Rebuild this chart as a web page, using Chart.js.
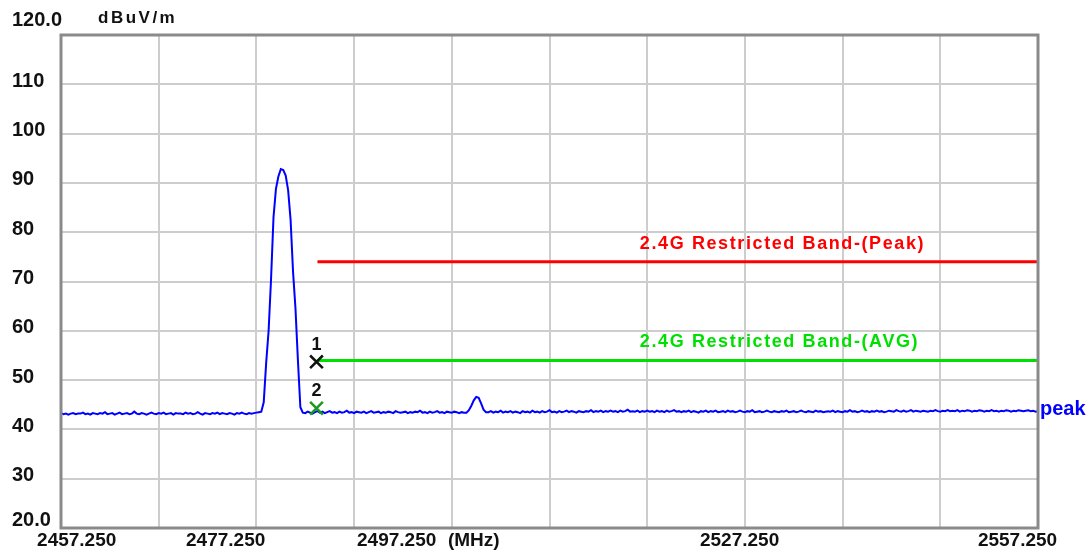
<!DOCTYPE html>
<html>
  <head>
    <title>Restricted Band Emission</title>
    <script src="https://cdn.jsdelivr.net/npm/chart.js"></script>
    <style>
      body {
        background: #fff;
        margin: 0;
      }
      .container {
        height: 558px;
        width: 1091px;
      }
    </style>
  </head>
  <body>
    <div class="container">
      <canvas id="chart" width="1091" height="558"></canvas>
    </div>

    <script>
      // Sweep: 2457.25 MHz .. 2557.25 MHz, one reading every 0.25 MHz
      const sweepStart = 2457.25;
      const sweepStep = 0.25;
      const traceLevels = [
        43.3,43.1,43.2,43.0,43.2,43.3,43.1,43.2,43.2,43.4,
        43.1,43.2,43.0,43.3,43.2,43.1,43.3,43.2,43.5,43.1,
        43.2,43.3,43.0,43.2,43.4,43.1,43.2,43.3,43.1,43.2,
        43.6,43.2,43.1,43.3,43.2,43.0,43.2,43.4,43.2,43.1,
        43.3,43.2,43.4,43.1,43.2,43.3,43.0,43.3,43.2,43.2,
        43.1,43.4,43.2,43.3,43.1,43.2,43.5,43.2,43.0,43.3,
        43.2,43.1,43.3,43.2,43.4,43.1,43.3,43.2,43.1,43.3,
        43.2,43.0,43.3,43.2,43.4,43.2,43.1,43.3,43.2,43.3,
        43.4,43.5,
        // carrier
        43.6,45.5,53.5,60.0,70.5,83.0,88.8,91.3,92.8,92.6,
        91.5,88.5,82.5,72.0,64.5,54.0,44.5,43.4,
        43.3,43.6,43.4,43.2,43.5,43.7,43.4,43.6,43.3,43.5,
        43.7,43.4,43.5,43.3,43.6,43.4,43.5,43.8,43.4,43.5,
        43.3,43.6,43.5,43.4,43.6,43.3,43.5,43.7,43.4,43.5,
        43.6,43.3,43.5,43.4,43.6,43.5,43.3,43.7,43.5,43.4,
        43.5,43.6,43.3,43.5,43.4,43.6,43.5,43.8,43.4,43.5,
        43.3,43.6,43.4,43.5,43.7,43.4,43.5,43.3,43.6,43.5,
        43.4,43.6,43.5,43.3,43.5,43.4,
        // small spur near 2500 MHz
        43.4,43.9,44.8,45.9,46.6,46.4,45.3,44.0,43.5,
        43.5,43.7,43.4,43.6,43.5,43.8,43.4,43.6,43.5,43.7,
        43.4,43.6,43.5,43.3,43.7,43.5,43.6,43.4,43.8,43.5,
        43.6,43.4,43.7,43.5,43.6,43.9,43.5,43.6,43.4,43.7,
        43.5,43.6,43.8,43.5,43.7,43.6,43.4,43.7,43.6,43.5,
        43.7,43.6,43.9,43.5,43.7,43.6,43.8,43.5,43.7,43.6,
        43.8,43.6,43.7,43.5,43.8,43.6,43.7,44.0,43.6,43.7,
        43.6,43.8,43.5,43.7,43.6,43.8,43.6,43.7,43.5,43.8,
        43.6,43.7,43.5,43.8,43.6,43.7,43.9,43.6,43.7,43.5,
        43.7,43.6,43.8,43.5,43.7,43.6,43.4,43.7,43.6,43.8,
        43.5,43.7,43.6,43.8,43.5,43.6,43.7,43.5,43.8,43.6,
        43.7,43.5,43.6,43.8,43.6,43.5,43.7,43.6,43.9,43.5,
        43.6,43.7,43.5,43.6,43.8,43.6,43.5,43.7,43.6,43.5,
        43.7,43.6,43.8,43.5,43.6,43.7,43.5,43.6,43.8,43.6,
        43.5,43.7,43.6,43.5,43.8,43.6,43.7,43.5,43.6,43.7,
        43.6,43.8,43.5,43.7,43.6,43.5,43.7,43.6,43.9,43.6,
        43.7,43.5,43.6,43.8,43.6,43.7,43.5,43.7,43.6,43.8,
        43.6,43.7,43.5,43.6,43.8,43.7,43.6,43.9,43.7,43.6,
        43.8,43.6,43.7,43.9,43.6,43.8,43.7,43.6,43.8,43.7,
        43.6,43.8,43.7,43.9,43.7,43.6,43.8,43.7,43.9,43.7,
        43.8,43.7,43.9,43.6,43.8,43.7,43.9,43.8,43.6,43.8,
        43.7,43.9,43.8,43.6,43.8,43.7,43.9,43.7,43.8,43.6,
        43.8,43.7,43.9,43.8,43.6,43.8,43.7,43.9,43.8,43.7,
        43.8,43.9,43.7,43.8,43.6,43.7
      ];

      // Limit lines
      const limitNames = ['2.4G Restricted Band-(Peak)', '2.4G Restricted Band-(AVG)'];
      const limitLevels = [74, 54];
      const limitFreqs = [2483.5, 2557.25];

      // Markers
      const markerNames = ['1', '2'];
      const markerFreqs = [2483.4, 2483.4];
      const markerLevels = [53.7, 44.3];

      // Axes
      const xGridFreqs = [2457.25, 2467.25, 2477.25, 2487.25, 2497.25, 2507.25, 2517.25, 2527.25, 2537.25, 2547.25, 2557.25];
      const xTickLabels = ['2457.250', '2477.250', '2497.250', '(MHz)', '2527.250', '2557.250'];
      const yTickValues = [120, 110, 100, 90, 80, 70, 60, 50, 40, 30, 20];
      const yTickLabels = ['120.0', '110', '100', '90', '80', '70', '60', '50', '40', '30', '20.0'];
      const unitLabel = 'dBuV/m';
      const traceName = 'peak';

      const tracePoints = traceLevels.map((v, i) => ({ x: sweepStart + i * sweepStep, y: v }));

      // Axis text, frame and annotations drawn on top
      const overlay = {
        id: 'overlay',
        afterDraw(chart) {
          const { ctx, chartArea: a, scales: { x, y } } = chart;
          ctx.save();

          ctx.strokeStyle = '#8a8a8a';
          ctx.lineWidth = 3;
          ctx.strokeRect(a.left, a.top, a.right - a.left, a.bottom - a.top);

          ctx.fillStyle = '#111';
          ctx.textAlign = 'left';
          ctx.textBaseline = 'middle';

          // y labels
          ctx.font = 'bold 20px Arial';
          yTickValues.forEach((v, i) => {
            let dy = -3;
            if (i === 0) dy = -15;
            if (i === yTickValues.length - 1) dy = -8;
            ctx.fillText(yTickLabels[i], 12, y.getPixelForValue(v) + dy);
          });

          ctx.font = 'bold 17px Arial';
          ctx.letterSpacing = '2.5px';
          ctx.fillText(unitLabel, 98, 18);
          ctx.letterSpacing = '0px';

          // x labels, left edges measured in MHz like the original plot
          const xLeft = [2454.8, 2470.05, 2487.55, 2496.85, 2522.65, 2551.1];
          ctx.font = 'bold 19px Arial';
          xTickLabels.forEach((t, i) => {
            ctx.fillText(t, x.getPixelForValue(xLeft[i]), 541);
          });

          // limit names
          ctx.font = 'bold 18px Arial';
          ctx.letterSpacing = '1.6px';
          const limitColors = ['#ff0000', '#00e000'];
          limitNames.forEach((t, i) => {
            ctx.fillStyle = limitColors[i];
            ctx.fillText(t, x.getPixelForValue(2516.5), y.getPixelForValue(limitLevels[i]) - 18);
          });
          ctx.letterSpacing = '0px';

          // marker numbers
          ctx.fillStyle = '#111';
          ctx.font = 'bold 18px Arial';
          ctx.textAlign = 'center';
          markerNames.forEach((t, i) => {
            ctx.fillText(t, x.getPixelForValue(markerFreqs[i]), y.getPixelForValue(markerLevels[i]) - 17);
          });

          // trace name
          ctx.fillStyle = '#0000ff';
          ctx.font = 'bold 20px Arial';
          ctx.textAlign = 'left';
          ctx.fillText(traceName, a.right + 2, y.getPixelForValue(traceLevels[traceLevels.length - 1]) - 2);

          ctx.restore();
        }
      };

      const ctx = document.getElementById('chart').getContext('2d');
      new Chart(ctx, {
        type: 'line',
        data: {
          datasets: [
            {
              label: traceName,
              data: tracePoints,
              borderColor: '#0000ff',
              borderWidth: 2,
              pointRadius: 0,
              tension: 0,
              order: 3
            },
            {
              label: limitNames[0],
              data: limitFreqs.map(f => ({ x: f, y: limitLevels[0] })),
              borderColor: '#ff0000',
              borderWidth: 3,
              pointRadius: 0,
              order: 2
            },
            {
              label: limitNames[1],
              data: limitFreqs.map(f => ({ x: f, y: limitLevels[1] })),
              borderColor: '#00e000',
              borderWidth: 3,
              pointRadius: 0,
              order: 2
            },
            {
              label: 'markers',
              data: markerFreqs.map((f, i) => ({ x: f, y: markerLevels[i] })),
              showLine: false,
              pointStyle: 'crossRot',
              pointRadius: 9,
              pointBorderWidth: 2.5,
              pointBorderColor: ['#111111', '#1a9a1a'],
              order: 1
            }
          ]
        },
        options: {
          responsive: false,
          animation: false,
          layout: {
            padding: { left: 61, right: 53, top: 35, bottom: 30 }
          },
          scales: {
            x: {
              type: 'linear',
              min: 2457.25,
              max: 2557.25,
              afterBuildTicks: s => { s.ticks = xGridFreqs.map(v => ({ value: v })); },
              ticks: { display: false },
              grid: { color: '#cdcdcd', lineWidth: 2, drawTicks: false },
              border: { display: false }
            },
            y: {
              min: 20,
              max: 120,
              afterBuildTicks: s => { s.ticks = yTickValues.map(v => ({ value: v })); },
              ticks: { display: false },
              grid: { color: '#cdcdcd', lineWidth: 2, drawTicks: false },
              border: { display: false }
            }
          },
          plugins: {
            legend: { display: false },
            tooltip: { enabled: false }
          }
        },
        plugins: [overlay]
      });
    </script>
  </body>
</html>
